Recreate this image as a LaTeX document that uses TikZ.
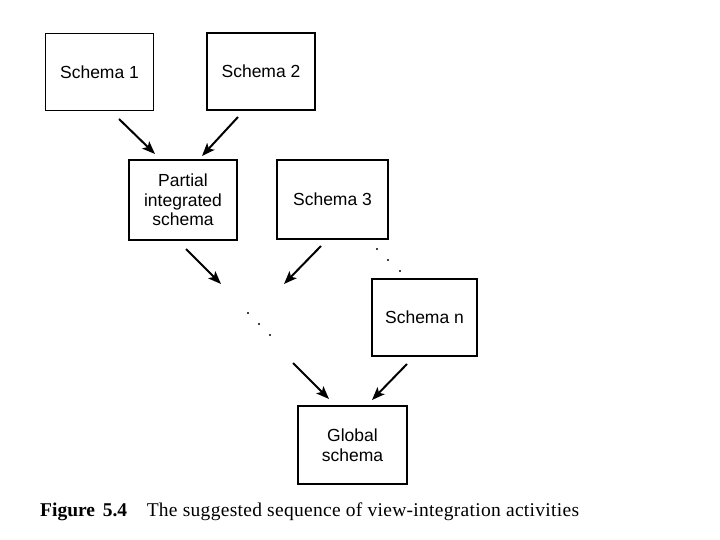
\documentclass[tikz,border=0pt]{standalone}
\usepackage{fontspec}
\setmainfont{Liberation Serif}
\setsansfont{Liberation Sans}
\usetikzlibrary{arrows.meta}
\begin{document}
\begin{tikzpicture}[x=1pt,y=-1pt,
  box/.style={draw,line width=1.8pt,inner sep=0pt,font=\sffamily\fontsize{17.5}{19.5}\selectfont,align=center},
  arr/.style={line width=2pt,-{Stealth[length=13pt,width=10pt,inset=3pt]}},
  dot/.style={circle,fill,inner sep=0pt,minimum size=2.4pt}]
\useasboundingbox (0,0) rectangle (720,540);
\fill[white] (0,0) rectangle (720,540);
\node[box,minimum width=108pt,minimum height=77pt] (s1) at (99.5,72) {Schema 1};
\node[box,minimum width=108pt,minimum height=77pt] (s2) at (261,71.5) {Schema 2};
\node[box,minimum width=108pt,minimum height=80pt] (p) at (183,200) {Partial\\integrated\\schema};
\node[box,minimum width=111pt,minimum height=79pt] (s3) at (332.5,199.5) {Schema 3};
\node[box,minimum width=105pt,minimum height=77pt] (sn) at (424.5,317.5) {Schema n};
\node[box,minimum width=109pt,minimum height=78pt] (g) at (352.5,445) {Global\\schema};
\coordinate (a1s) at (119,119); \coordinate (a1e) at (155,154);
\coordinate (a2s) at (238,117); \coordinate (a2e) at (202,156);
\coordinate (a3s) at (186,249); \coordinate (a3e) at (221,284);
\coordinate (a4s) at (321,246); \coordinate (a4e) at (284,284);
\coordinate (a5s) at (293,363); \coordinate (a5e) at (329,399);
\coordinate (a6s) at (407,364); \coordinate (a6e) at (372,400);
\draw[arr] (a1s) -- (a1e);
\draw[arr] (a2s) -- (a2e);
\draw[arr] (a3s) -- (a3e);
\draw[arr] (a4s) -- (a4e);
\draw[arr] (a5s) -- (a5e);
\draw[arr] (a6s) -- (a6e);
\node[dot] (d1) at (248,313) {};
\node[dot] (d2) at (259,324) {};
\node[dot] (d3) at (270,335) {};
\node[dot] (d4) at (377,249) {};
\node[dot] (d5) at (388,260) {};
\node[dot] (d6) at (400,271) {};
\node[anchor=base west,inner sep=0pt,font=\fontsize{19.5}{22}\selectfont] (cap) at (40,516) {\textbf{Figure\hspace{0.4em}5.4}\hspace{1.0em}\addfontfeature{LetterSpace=1.5}The suggested sequence of view-integration activities};
\end{tikzpicture}
\end{document}
